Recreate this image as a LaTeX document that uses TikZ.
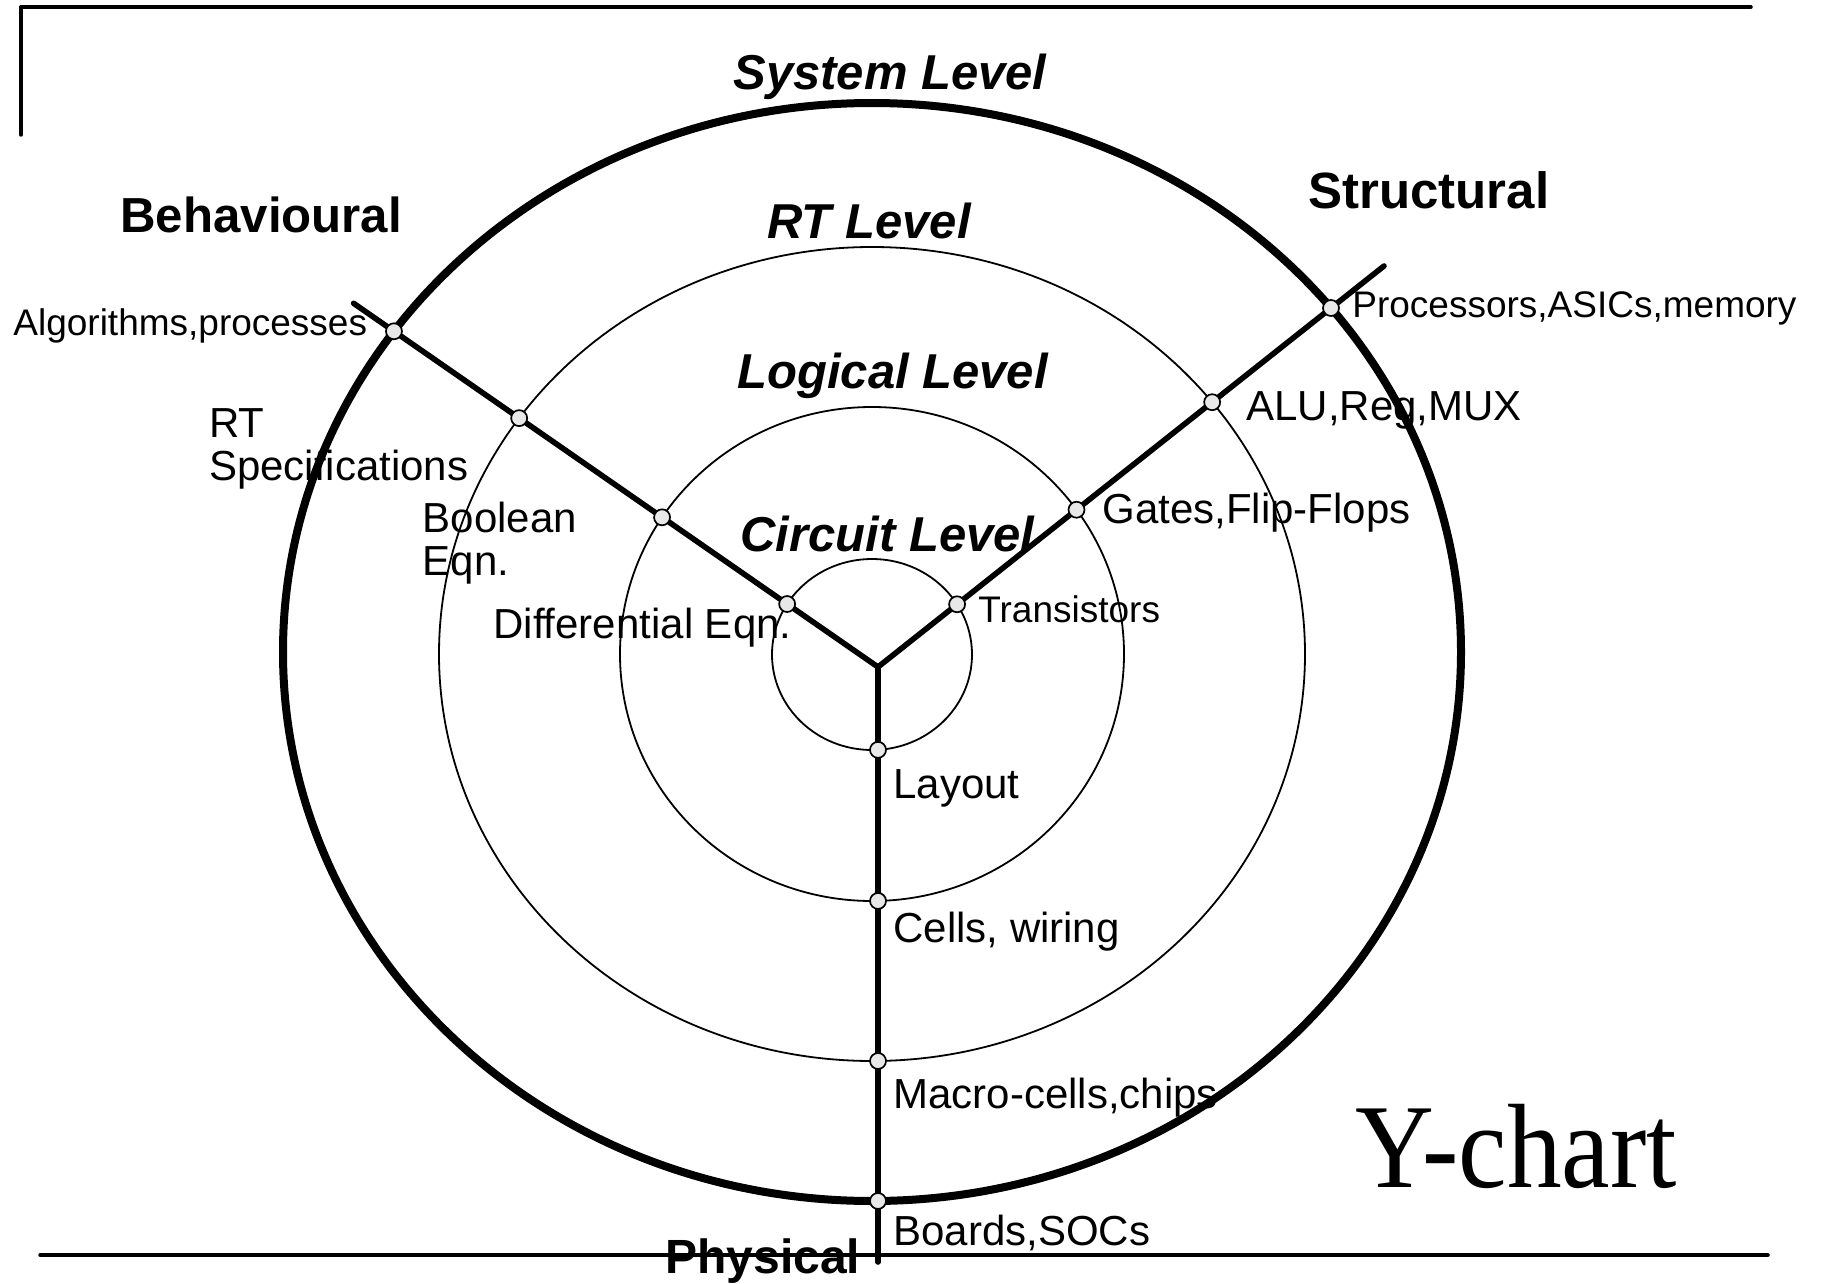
\documentclass[tikz,border=0pt]{standalone}
\usepackage{fontspec}
\setmainfont{Liberation Sans}
\newfontfamily\serifface{Liberation Serif}
\usetikzlibrary{intersections}

\begin{document}
\begin{tikzpicture}[x=0.5pt,y=-0.5pt,
  frame/.style={line width=1.75pt, line cap=round},
  ring/.style={line width=0.9pt},
  outerring/.style={line width=4pt},
  axis/.style={line width=2.8pt, line cap=round},
  dot/.style={circle, draw, fill=black!9, line width=0.85pt, minimum size=8pt, inner sep=0pt},
  leveltitle/.style={font=\fontsize{24.5}{28}\selectfont\bfseries\itshape, anchor=base west, inner sep=0pt},
  viewtitle/.style={font=\fontsize{24.6}{28}\selectfont\bfseries, anchor=base west, inner sep=0pt},
  lab/.style={font=\fontsize{21}{21.5}\selectfont, anchor=base west, inner sep=0pt, align=left},
  smalllab/.style={font=\fontsize{18.5}{20}\selectfont, anchor=base west, inner sep=0pt},
]
\useasboundingbox (0,0) rectangle (1822,1284);

% frame lines
\draw[frame] (21,7) -- (1751,7);
\draw[frame] (21,7) -- (21,135);
\draw[frame] (40,1255) -- (1768,1255);

% abstraction levels
\draw[outerring, name path=sys] (872,652) ellipse [x radius=589, y radius=549];
\draw[ring, name path=rt]  (872,654) ellipse [x radius=433, y radius=407];
\draw[ring, name path=log] (872,654) ellipse [x radius=252, y radius=247];
\draw[ring, name path=cir] (872,654.5) ellipse [x radius=100, y radius=95.5];

% the three domain axes
\coordinate (J) at (878,667);
\coordinate (BE) at (353.6,303.3);
\coordinate (SE) at (1384,266);
\coordinate (PE) at (878,1262);
\draw[axis, name path=bax] (J) -- (BE);
\draw[axis, name path=sax] (J) -- (SE);
\draw[axis, name path=pax] (J) -- (PE);

% crossing points
\path[name intersections={of=sys and bax, by=pb1}];
\path[name intersections={of=rt and bax, by=pb2}];
\path[name intersections={of=log and bax, by=pb3}];
\path[name intersections={of=cir and bax, by=pb4}];
\path[name intersections={of=sys and sax, by=ps1}];
\path[name intersections={of=rt and sax, by=ps2}];
\path[name intersections={of=log and sax, by=ps3}];
\path[name intersections={of=cir and sax, by=ps4}];
\path[name intersections={of=sys and pax, by=pp1}];
\path[name intersections={of=rt and pax, by=pp2}];
\path[name intersections={of=log and pax, by=pp3}];
\path[name intersections={of=cir and pax, by=pp4}];
\foreach \p in {pb1,pb2,pb3,pb4,ps1,ps2,ps3,ps4,pp1,pp2,pp3,pp4}
  \node[dot] (d\p) at (\p) {};

% level titles
\node[leveltitle] (tsys) at (733,90) {System Level};
\node[leveltitle] (trt)  at (767,238) {RT Level};
\node[leveltitle] (tlog) at (737,388) {Logical Level};
\node[leveltitle] (tcir) at (740,551) {Circuit Level};

% view titles
\node[viewtitle] (tbeh) at (120,233) {Behavioural};
\node[viewtitle, font=\fontsize{25.5}{28}\selectfont\bfseries] (tstr) at (1308,208) {Structural};
\node[viewtitle, font=\fontsize{24}{28}\selectfont\bfseries] (tphy) at (665,1273) {Physical};

% behavioural labels (two-line labels are anchored on their last line)
\node[smalllab] (l1) at (13,335) {Algorithms,processes};
\node[lab] (l2) at (208.6,480) {RT\\Specifications};
\node[lab] (l3) at (422.5,575) {Boolean\\Eqn.};
\node[lab] (l4) at (493,638) {Differential Eqn.};

% structural labels
\node[smalllab] (r1) at (1352,317) {Processors,ASICs,memory};
\node[lab] (r2) at (1246,420) {ALU,Reg,MUX};
\node[lab] (r3) at (1102,523) {Gates,Flip-Flops};
\node[smalllab] (r4) at (978,622) {Transistors};

% physical labels
\node[lab] (p4) at (893,798) {Layout};
\node[lab] (p3) at (893,942) {Cells, wiring};
\node[lab] (p2) at (893,1108) {Macro-cells,chips};
\node[lab] (p1) at (893,1245) {Boards,SOCs};

% chart title
\node[anchor=base west, inner sep=0pt, font=\serifface\fontsize{60}{60}\selectfont] (title) at (1355,1187) {\scalebox{0.91}[1]{Y-chart}};
\end{tikzpicture}
\end{document}
